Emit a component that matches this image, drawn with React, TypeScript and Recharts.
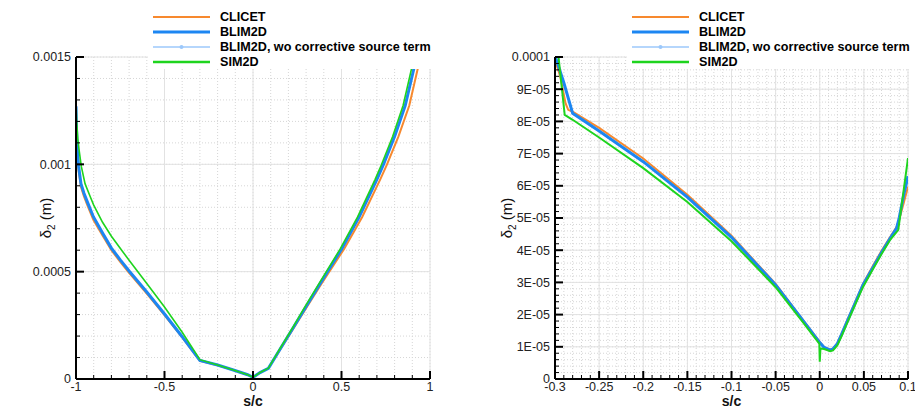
import { LineChart, Line, XAxis, YAxis, CartesianGrid, ReferenceLine } from "recharts";

const FONT = '"Liberation Sans", Arial, Helvetica, sans-serif';

const C_CLICET = "#f7892e";
const C_BLIM = "#1c86f2";
const C_BLIM_WO = "#9cc8fb";
const C_SIM = "#1ed41e";

// ---------- left panel: s/c from -1 to 1 ----------
const leftXTicks = [-1, -0.5, 0, 0.5, 1];
const leftXLabels = ["-1", "-0.5", "0", "0.5", "1"];
const leftYTicks = [0, 0.0005, 0.001, 0.0015];
const leftYLabels = ["0", "0.0005", "0.001", "0.0015"];

const leftBlimS = [-1, -0.997, -0.993, -0.985, -0.972, -0.955, -0.936, -0.902, -0.85, -0.8, -0.75, -0.7, -0.6, -0.5, -0.4, -0.3, -0.2, -0.111, -0.03, 0, 0.04, 0.087, 0.15, 0.228, 0.3, 0.378, 0.5, 0.6, 0.7, 0.736, 0.8, 0.86, 0.91];
const leftBlimD = [0.00127, 0.00116, 0.00107, 0.00099, 0.00091, 0.000865, 0.000825, 0.000756, 0.00068, 0.00061, 0.000555, 0.000503, 0.000405, 0.000303, 0.000197, 0.000086, 0.000065, 0.000042, 0.00002, 0.000008, 0.00003, 0.00005, 0.000135, 0.00024, 0.000338, 0.000443, 0.000605, 0.000755, 0.00093, 0.000997, 0.00113, 0.001274, 0.00145];

const leftClicetS = [-1, -0.997, -0.993, -0.985, -0.972, -0.955, -0.936, -0.902, -0.85, -0.8, -0.75, -0.7, -0.6, -0.5, -0.4, -0.3, -0.2, -0.111, -0.03, 0, 0.04, 0.087, 0.152, 0.232, 0.306, 0.386, 0.514, 0.617, 0.719, 0.756, 0.822, 0.883, 0.932];
const leftClicetD = [0.00125, 0.00113, 0.00105, 0.00097, 0.000895, 0.00085, 0.00081, 0.000742, 0.000668, 0.0006, 0.000546, 0.000495, 0.000398, 0.000298, 0.000194, 0.000085, 0.000064, 0.000042, 0.00002, 0.000008, 0.00003, 0.00005, 0.000135, 0.00024, 0.000338, 0.000443, 0.000605, 0.000755, 0.00093, 0.000997, 0.00113, 0.001274, 0.00145];

const leftSimS = [-1, -0.997, -0.99, -0.983, -0.97, -0.949, -0.92, -0.9, -0.85, -0.8, -0.742, -0.7, -0.6, -0.5, -0.4, -0.3, -0.2, -0.111, -0.03, 0, 0.04, 0.087, 0.148, 0.225, 0.295, 0.372, 0.492, 0.591, 0.69, 0.725, 0.789, 0.848, 0.897];
const leftSimD = [0.0013, 0.00121, 0.00112, 0.00107, 0.00099, 0.00091, 0.00085, 0.00081, 0.00073, 0.000665, 0.0006, 0.000553, 0.000445, 0.000335, 0.000218, 0.00009, 0.000065, 0.000042, 0.00002, 0.000008, 0.00003, 0.00005, 0.000135, 0.00024, 0.000338, 0.000443, 0.000605, 0.000755, 0.00093, 0.000997, 0.00113, 0.001274, 0.00145];

// ---------- right panel: zoom near the leading edge ----------
const rightXTicks = [-0.3, -0.25, -0.2, -0.15, -0.1, -0.05, 0, 0.05, 0.1];
const rightXLabels = ["-0.3", "-0.25", "-0.2", "-0.15", "-0.1", "-0.05", "0", "0.05", "0.1"];
const rightYTicks = [0, 1e-5, 2e-5, 3e-5, 4e-5, 5e-5, 6e-5, 7e-5, 8e-5, 9e-5, 1e-4];
const rightYLabels = ["0", "1E-05", "2E-05", "3E-05", "4E-05", "5E-05", "6E-05", "7E-05", "8E-05", "9E-05", "0.0001"];

const rightBlimS = [-0.2995, -0.29, -0.28, -0.25, -0.2, -0.15, -0.1, -0.05, -0.02, 0, 0.005, 0.0118, 0.015, 0.02, 0.025, 0.03, 0.04, 0.049, 0.06, 0.07, 0.08, 0.087, 0.09, 0.095, 0.1];
const rightBlimD = [1.0e-4, 9.2e-5, 8.25e-5, 7.7e-5, 6.75e-5, 5.65e-5, 4.4e-5, 2.92e-5, 1.85e-5, 1.13e-5, 9.8e-6, 9.0e-6, 9.3e-6, 1.1e-5, 1.4e-5, 1.72e-5, 2.35e-5, 2.92e-5, 3.45e-5, 3.93e-5, 4.38e-5, 4.68e-5, 5.0e-5, 5.7e-5, 6.3e-5];

const rightClicetS = [-0.3, -0.297, -0.294, -0.288, -0.285, -0.28, -0.25, -0.2, -0.15, -0.1, -0.05, -0.02, 0, 0.005, 0.0118, 0.015, 0.02, 0.025, 0.03, 0.04, 0.049, 0.06, 0.07, 0.08, 0.087, 0.09, 0.095, 0.1];
const rightClicetD = [9.9e-5, 9.65e-5, 9.39e-5, 8.56e-5, 8.36e-5, 8.3e-5, 7.8e-5, 6.85e-5, 5.72e-5, 4.45e-5, 2.95e-5, 1.87e-5, 1.15e-5, 9.9e-6, 9.1e-6, 9.4e-6, 1.11e-5, 1.42e-5, 1.75e-5, 2.38e-5, 2.95e-5, 3.5e-5, 3.98e-5, 4.42e-5, 4.72e-5, 4.95e-5, 5.45e-5, 5.97e-5];

const rightSimS = [-0.296, -0.289, -0.28, -0.25, -0.2, -0.15, -0.1, -0.05, -0.02, -0.0005, 0, 0.0008, 0.005, 0.0118, 0.015, 0.02, 0.025, 0.03, 0.04, 0.049, 0.06, 0.07, 0.08, 0.089, 0.1];
const rightSimD = [1.0e-4, 8.2e-5, 8.05e-5, 7.5e-5, 6.55e-5, 5.5e-5, 4.28e-5, 2.85e-5, 1.8e-5, 1.1e-5, 5.4e-6, 9.5e-6, 9.3e-6, 8.6e-6, 8.9e-6, 1.05e-5, 1.35e-5, 1.67e-5, 2.3e-5, 2.86e-5, 3.4e-5, 3.88e-5, 4.33e-5, 4.63e-5, 6.86e-5];

const legendItems = [
  { name: "CLICET", color: C_CLICET, width: 2, dot: false },
  { name: "BLIM2D", color: C_BLIM, width: 3, dot: false },
  { name: "BLIM2D, wo corrective source term", color: C_BLIM_WO, width: 1.5, dot: true },
  { name: "SIM2D", color: C_SIM, width: 2.5, dot: false },
];

const zip = (s: number[], d: number[]) => s.map((v, i) => ({ s: v, d: d[i] }));

const steps = (min: number, max: number, step: number) => {
  const out: number[] = [];
  const n = Math.round((max - min) / step);
  for (let i = 0; i <= n; i++) out.push(Math.round((min + i * step) * 1e9) / 1e9);
  return out;
};

const findMajor = (majors: number[], v: number) =>
  majors.findIndex((m) => Math.abs(m - v) < 1e-12);

const makeXTick = (majors: number[], labels: string[]) => (props: any) => {
  const { x, y, payload } = props;
  const i = findMajor(majors, payload.value);
  const major = i >= 0;
  return (
    <g>
      <line x1={x} x2={x} y1={y} y2={y - (major ? 8 : 4)} stroke="#000" strokeWidth={major ? 2 : 1} />
      {major && (
        <text x={x} y={y + 11.5} textAnchor="middle" fontSize={12.5} fill="#222" fontFamily={FONT}>
          {labels[i]}
        </text>
      )}
    </g>
  );
};

const makeYTick = (majors: number[], labels: string[]) => (props: any) => {
  const { x, y, payload } = props;
  const i = findMajor(majors, payload.value);
  const major = i >= 0;
  return (
    <g>
      <line x1={x} x2={x + (major ? 8 : 4)} y1={y} y2={y} stroke="#000" strokeWidth={major ? 2 : 1} />
      {major && (
        <text x={x - 5} y={y} dy="0.35em" textAnchor="end" fontSize={12.5} fill="#222" fontFamily={FONT}>
          {labels[i]}
        </text>
      )}
    </g>
  );
};

const xTitle = (props: any) => {
  const { viewBox } = props;
  return (
    <text x={viewBox.x + viewBox.width / 2} y={viewBox.y + 26.5} textAnchor="middle" fontSize={14} fontWeight="bold" fill="#111" fontFamily={FONT}>
      s/c
    </text>
  );
};

const yTitle = (cx: number) => (props: any) => {
  const { viewBox } = props;
  const cy = viewBox.y + viewBox.height / 2;
  const x = viewBox.x + cx;
  return (
    <text x={x} y={cy} transform={`rotate(-90, ${x}, ${cy})`} textAnchor="middle" dy="0.35em" fontSize={15} fill="#111" fontFamily={FONT}>
      δ<tspan fontSize={10} dy={4}>2</tspan>
      <tspan dy={-4}> (m)</tspan>
    </text>
  );
};

type PanelProps = {
  width: number;
  yAxisWidth: number;
  marginRight: number;
  xDomain: [number, number];
  yDomain: [number, number];
  xMajors: number[];
  xLabels: string[];
  xMinor: number;
  yMajors: number[];
  yLabels: string[];
  yMinor: number;
  titleX: number;
  clicet: { s: number; d: number }[];
  blim: { s: number; d: number }[];
  sim: { s: number; d: number }[];
  simWidth: number;
};

const Panel = (p: PanelProps) => {
  const xAll = steps(p.xDomain[0], p.xDomain[1], p.xMinor);
  const yAll = steps(p.yDomain[0], p.yDomain[1], p.yMinor);
  return (
    <LineChart width={p.width} height={408} margin={{ top: 57, right: p.marginRight, bottom: 0, left: 0 }}>
      <CartesianGrid stroke="#d6d6d6" strokeDasharray="1 2" />
      {p.xMajors.map((v) => (
        <ReferenceLine key={"vx" + v} x={v} stroke="#e2e2e2" strokeWidth={1} />
      ))}
      {p.yMajors.map((v) => (
        <ReferenceLine key={"hy" + v} y={v} stroke="#e2e2e2" strokeWidth={1} />
      ))}
      <XAxis
        dataKey="s"
        type="number"
        domain={p.xDomain}
        ticks={xAll}
        interval={0}
        height={29}
        tickSize={0}
        tickMargin={0}
        tickLine={false}
        allowDataOverflow
        axisLine={{ stroke: "#000", strokeWidth: 2 }}
        tick={makeXTick(p.xMajors, p.xLabels)}
        label={{ content: xTitle }}
      />
      <YAxis
        type="number"
        domain={p.yDomain}
        ticks={yAll}
        interval={0}
        width={p.yAxisWidth}
        tickSize={0}
        tickMargin={0}
        tickLine={false}
        allowDataOverflow
        axisLine={{ stroke: "#000", strokeWidth: 2 }}
        tick={makeYTick(p.yMajors, p.yLabels)}
        label={{ content: yTitle(p.titleX) }}
      />
      <Line data={p.clicet} dataKey="d" type="linear" stroke={C_CLICET} strokeWidth={2} dot={false} isAnimationActive={false} />
      <Line data={p.blim} dataKey="d" type="linear" stroke={C_BLIM_WO} strokeWidth={1.5} dot={false} isAnimationActive={false} />
      <Line data={p.blim} dataKey="d" type="linear" stroke={C_BLIM} strokeWidth={3} dot={false} isAnimationActive={false} />
      <Line data={p.sim} dataKey="d" type="linear" stroke={C_SIM} strokeWidth={p.simWidth} dot={false} isAnimationActive={false} />
    </LineChart>
  );
};

const Legend = () => (
  <div style={{ position: "absolute", left: 0, top: 0, width: "100%", height: 69, background: "#fff" }}>
    {legendItems.map((it, i) => (
      <div key={it.name} style={{ position: "absolute", left: 5, top: 9 + i * 15, height: 16, display: "flex", alignItems: "center" }}>
        <svg width={57} height={16}>
          <line x1={0} x2={57} y1={8} y2={8} stroke={it.color} strokeWidth={it.width} />
          {it.dot && <circle cx={28.5} cy={8} r={2} fill={it.color} />}
        </svg>
        <span style={{ marginLeft: 10, fontSize: 12.6, fontWeight: "bold", color: "#000", fontFamily: FONT, whiteSpace: "nowrap" }}>
          {it.name}
        </span>
      </div>
    ))}
  </div>
);

export default function App() {
  return (
    <div style={{ position: "absolute", left: 0, top: 0, width: 915, height: 408, background: "#fff", overflow: "hidden" }}>
      <div style={{ position: "absolute", left: 0, top: 0 }}>
        <Panel
          width={460}
          yAxisWidth={76}
          marginRight={30}
          xDomain={[-1, 1]}
          yDomain={[0, 0.0015]}
          xMajors={leftXTicks}
          xLabels={leftXLabels}
          xMinor={0.1}
          yMajors={leftYTicks}
          yLabels={leftYLabels}
          yMinor={0.0001}
          titleX={46}
          clicet={zip(leftClicetS, leftClicetD)}
          blim={zip(leftBlimS, leftBlimD)}
          sim={zip(leftSimS, leftSimD)}
          simWidth={1.6}
        />
      </div>
      <div style={{ position: "absolute", left: 460, top: 0 }}>
        <Panel
          width={455}
          yAxisWidth={95}
          marginRight={7}
          xDomain={[-0.3, 0.1]}
          yDomain={[0, 0.0001]}
          xMajors={rightXTicks}
          xLabels={rightXLabels}
          xMinor={0.01}
          yMajors={rightYTicks}
          yLabels={rightYLabels}
          yMinor={2e-6}
          titleX={47}
          clicet={zip(rightClicetS, rightClicetD)}
          blim={zip(rightBlimS, rightBlimD)}
          sim={zip(rightSimS, rightSimD)}
          simWidth={2}
        />
      </div>
      <div style={{ position: "absolute", left: 148, top: 0, width: 290, height: 69, overflow: "hidden" }}>
        <Legend />
      </div>
      <div style={{ position: "absolute", left: 627, top: 0, width: 288, height: 69, overflow: "hidden" }}>
        <Legend />
      </div>
    </div>
  );
}
